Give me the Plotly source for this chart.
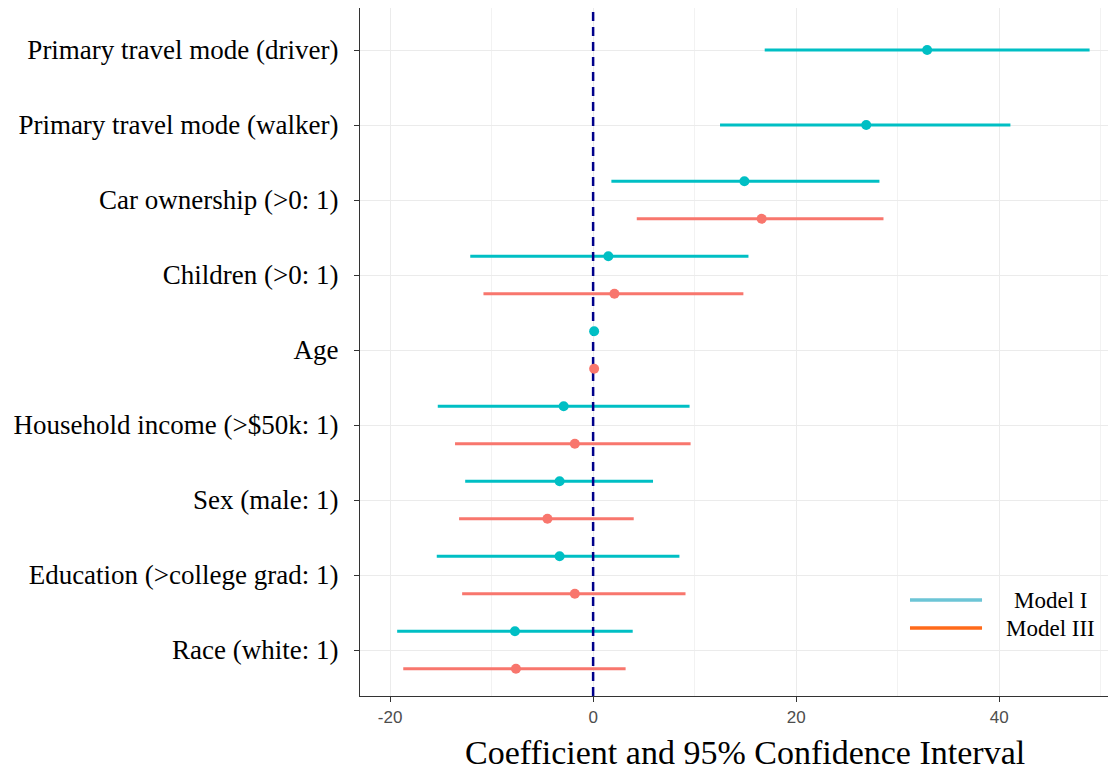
import plotly.graph_objects as go

# ---------------- data (top to bottom) ----------------
categories = [
    "Primary travel mode (driver)",
    "Primary travel mode (walker)",
    "Car ownership (>0: 1)",
    "Children (>0: 1)",
    "Age",
    "Household income (>$50k: 1)",
    "Sex (male: 1)",
    "Education (>college grad: 1)",
    "Race (white: 1)",
]

m1_est = [32.9, 26.9, 14.9, 1.5, 0.1, -2.9, -3.3, -3.3, -7.7]
m1_lo = [16.9, 12.5, 1.8, -12.1, 0.0, -15.3, -12.6, -15.4, -19.3]
m1_hi = [48.9, 41.1, 28.2, 15.3, 0.2, 9.5, 5.9, 8.5, 3.9]

m3_cats = [
    "Car ownership (>0: 1)",
    "Children (>0: 1)",
    "Age",
    "Household income (>$50k: 1)",
    "Sex (male: 1)",
    "Education (>college grad: 1)",
    "Race (white: 1)",
]
m3_est = [16.6, 2.1, 0.1, -1.8, -4.5, -1.8, -7.6]
m3_lo = [4.3, -10.8, 0.0, -13.6, -13.2, -12.9, -18.7]
m3_hi = [28.6, 14.8, 0.2, 9.6, 4.0, 9.1, 3.2]

x_ticks = [-20, 0, 20, 40]

# ---------------- positions ----------------
n = len(categories)
pos = {c: n - i for i, c in enumerate(categories)}  # top category highest
dodge = 0.25
m1_y = [pos[c] + (dodge if c in m3_cats else 0.0) for c in categories]
m3_y = [pos[c] - dodge for c in m3_cats]

C1 = "#00BFC4"
C3 = "#F8766D"
SERIF = "Liberation Serif, Times New Roman, serif"

fig = go.Figure()

# error bars first
fig.add_trace(go.Scatter(
    x=m1_est, y=m1_y, mode="markers",
    marker=dict(size=1, opacity=0, color=C1),
    error_x=dict(type="data", symmetric=False,
                 array=[h - e for h, e in zip(m1_hi, m1_est)],
                 arrayminus=[e - l for l, e in zip(m1_lo, m1_est)],
                 color=C1, thickness=3, width=0),
    showlegend=False, hoverinfo="skip"))
fig.add_trace(go.Scatter(
    x=m3_est, y=m3_y, mode="markers",
    marker=dict(size=1, opacity=0, color=C3),
    error_x=dict(type="data", symmetric=False,
                 array=[h - e for h, e in zip(m3_hi, m3_est)],
                 arrayminus=[e - l for l, e in zip(m3_lo, m3_est)],
                 color=C3, thickness=3, width=0),
    showlegend=False, hoverinfo="skip"))

y_lo, y_hi = 0.387, 9.56

# reference line at zero
fig.add_trace(go.Scatter(
    x=[0, 0], y=[y_lo, y_hi], mode="lines",
    line=dict(color="#00008B", width=2.5, dash="9px,6px"),
    showlegend=False, hoverinfo="skip"))

# points
fig.add_trace(go.Scatter(x=m1_est, y=m1_y, mode="markers",
                         marker=dict(size=10, color=C1), name="Model I", showlegend=False))
fig.add_trace(go.Scatter(x=m3_est, y=m3_y, mode="markers",
                         marker=dict(size=10, color=C3), name="Model III", showlegend=False))

# manual legend
leg = [("Model I", "#6CC5D6", 0.1395), ("Model III", "#FF6A1A", 0.0988)]
for label, col, yy in leg:
    fig.add_shape(type="line", xref="paper", yref="paper",
                  x0=0.7275, x1=0.8228, y0=yy, y1=yy,
                  line=dict(color=col, width=3.5))
    fig.add_annotation(xref="paper", yref="paper", x=0.914, y=yy,
                       text=label, showarrow=False, xanchor="center", yanchor="middle",
                       font=dict(family=SERIF, size=23, color="black"))

# x-axis title
fig.add_annotation(xref="paper", yref="paper", x=0.509, y=-0.0814,
                   text="Coefficient and 95% Confidence Interval", showarrow=False,
                   xanchor="center", yanchor="middle",
                   font=dict(family=SERIF, size=34, color="black"))

fig.update_layout(
    width=1108, height=768,
    margin=dict(l=352, r=0, t=0, b=80),
    paper_bgcolor="white", plot_bgcolor="white",
    showlegend=False,
)

fig.update_xaxes(
    range=[-22.96, 51.5],
    tickmode="array", tickvals=x_ticks, ticktext=[str(v) for v in x_ticks],
    ticks="outside", ticklen=5, tickcolor="#333333",
    tickfont=dict(family="Liberation Sans, Arial, sans-serif", size=17, color="#4D4D4D"),
    showgrid=True, gridcolor="#EBEBEB", gridwidth=1.2,
    minor=dict(tickmode="linear", tick0=0, dtick=10, showgrid=True,
               gridcolor="#F2F2F2", gridwidth=1, ticks=""),
    zeroline=False,
    showline=True, linecolor="#333333", linewidth=1.2, mirror=True,
)

fig.update_yaxes(
    range=[y_lo, y_hi],
    tickmode="array", tickvals=[pos[c] for c in categories], ticktext=categories,
    ticks="outside", ticklen=5, tickcolor="#333333",
    tickfont=dict(family=SERIF, size=27, color="black"),
    ticklabelstandoff=10,
    showgrid=True, gridcolor="#EBEBEB", gridwidth=1.2,
    zeroline=False,
    showline=True, linecolor="#333333", linewidth=1.2, mirror=False,
)

fig.write_html("out.html")
